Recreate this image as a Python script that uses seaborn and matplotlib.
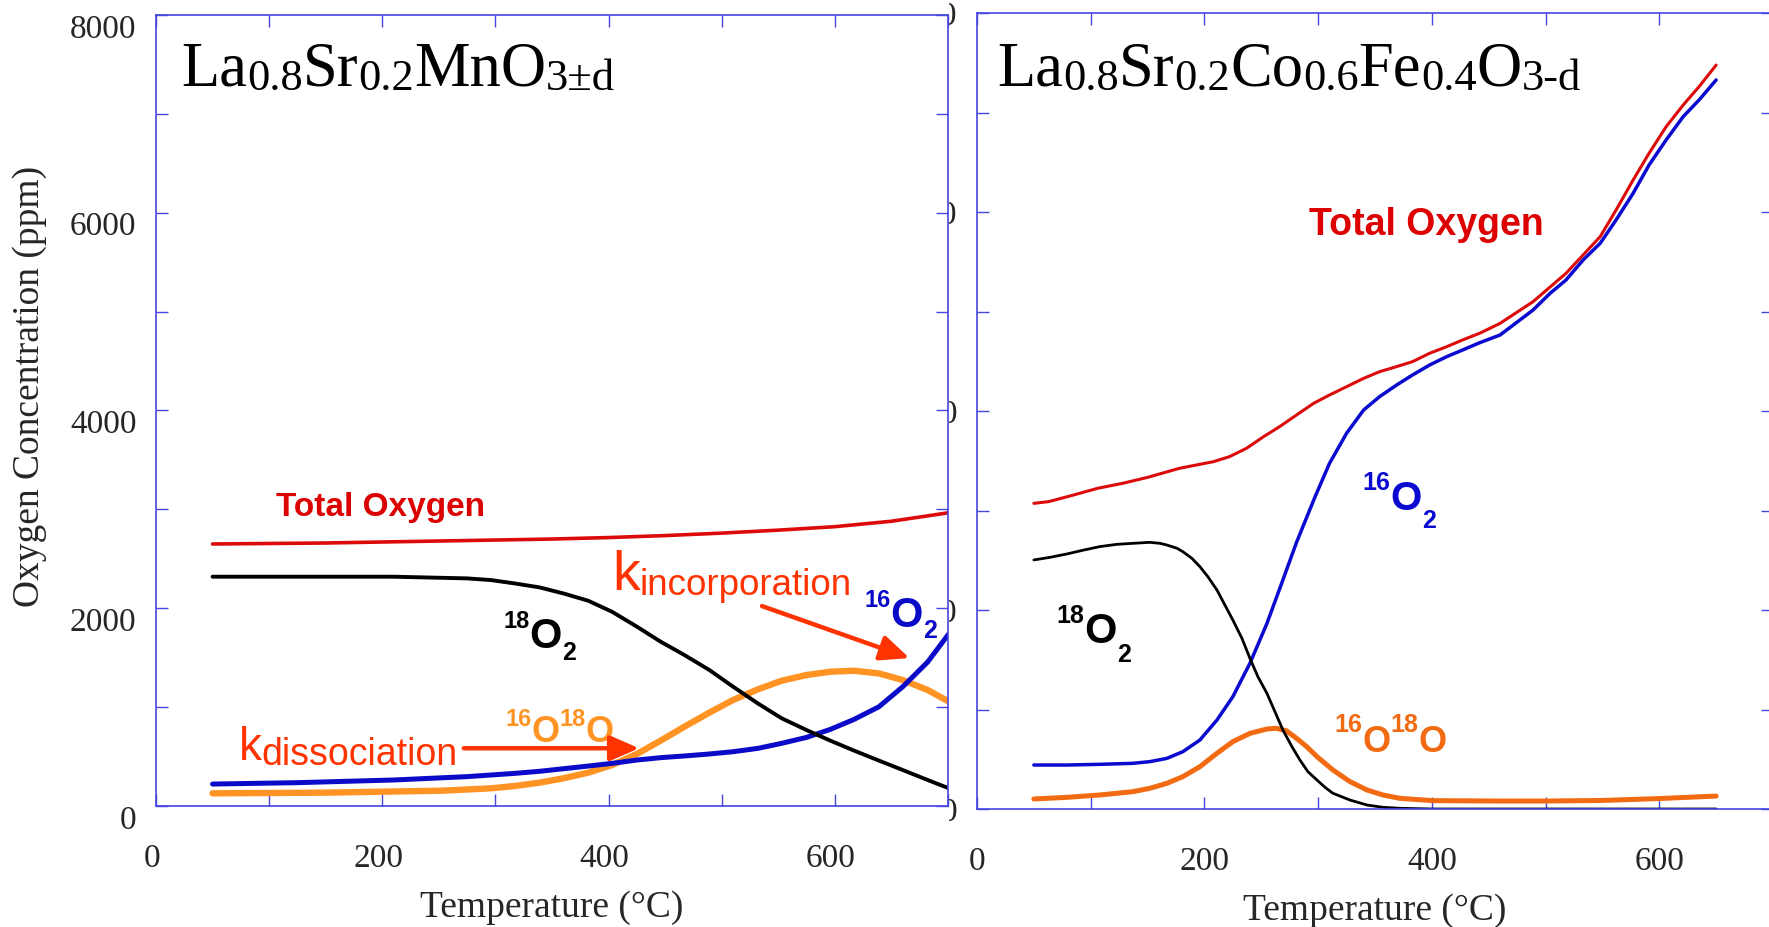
import numpy as np
import pandas as pd
import seaborn as sns
import matplotlib
matplotlib.use("Agg")
import matplotlib.pyplot as plt
from matplotlib.transforms import offset_copy, ScaledTranslation, Bbox
from matplotlib.ticker import MultipleLocator, FuncFormatter

# ---- left panel: La0.8Sr0.2MnO3 (temperature in C, concentration in ppm)
lsm_total_t = [50, 100, 150, 200, 250, 300, 350, 400, 450, 500, 550, 600, 650, 700]
lsm_total_c = [2650, 2655, 2660, 2670, 2680, 2690, 2700, 2715, 2735, 2760, 2790, 2825, 2880, 2965]

lsm_18o2_t = [50, 125, 210, 275, 296, 317, 339, 360, 382, 403, 425, 446, 467, 489, 510, 532,
              553, 575, 596, 617, 639, 660, 682, 701]
lsm_18o2_c = [2319, 2319, 2319, 2302, 2285, 2251, 2211, 2150, 2076, 1965, 1814, 1662, 1527, 1376,
              1207, 1037, 887, 768, 661, 560, 459, 364, 263, 178]

lsm_16o2_t = [50, 125, 210, 275, 317, 339, 360, 382, 403, 425, 446, 467, 489, 510, 532,
              553, 575, 596, 617, 639, 660, 682, 701]
lsm_16o2_c = [222, 236, 263, 297, 330, 351, 377, 404, 431, 465, 489, 506, 526, 549, 583,
              634, 694, 775, 876, 1004, 1206, 1456, 1746]

lsm_mixed_t = [50, 149, 253, 296, 317, 339, 360, 382, 403, 425, 446, 467, 489, 510, 532,
               553, 575, 596, 617, 639, 660, 682, 701]
lsm_mixed_c = [128, 135, 155, 179, 202, 236, 280, 337, 414, 526, 661, 802, 944, 1072, 1180,
               1267, 1325, 1358, 1368, 1341, 1274, 1173, 1055]

# ---- right panel: La0.8Sr0.2Co0.6Fe0.4O3
lscf_total_t = [50, 63, 85, 106, 128, 150, 178, 208, 222, 237, 252, 266, 281, 296, 310, 325,
                340, 354, 369, 383, 398, 413, 427, 442, 460, 489, 518, 548, 562, 577, 591, 606,
                621, 635, 650]
lscf_total_c = [3072, 3089, 3156, 3223, 3273, 3333, 3424, 3491, 3541, 3625, 3742, 3842, 3960,
                4077, 4161, 4244, 4328, 4395, 4446, 4496, 4580, 4646, 4714, 4781, 4881, 5099,
                5384, 5752, 6020, 6322, 6590, 6857, 7075, 7260, 7477]

lscf_16o2_t = [50, 79, 108, 137, 152, 167, 181, 196, 211, 225, 240, 255, 269, 281, 297, 310,
               325, 340, 354, 369, 383, 398, 413, 427, 442, 460, 489, 504, 518, 533, 548, 562,
               577, 591, 606, 621, 635, 650]
lscf_16o2_c = [442, 442, 449, 459, 476, 509, 576, 693, 894, 1129, 1464, 1866, 2302, 2680, 3130,
               3474, 3776, 4010, 4144, 4261, 4362, 4462, 4546, 4613, 4686, 4764, 5015, 5183,
               5317, 5518, 5685, 5920, 6188, 6472, 6724, 6958, 7126, 7327]

lscf_18o2_t = [50, 64, 79, 94, 108, 123, 137, 152, 161, 167, 176, 181, 189, 196, 203, 211, 218,
               225, 233, 240, 247, 255, 262, 269, 277, 284, 291, 299, 306, 313, 328, 343, 357,
               372, 400, 500, 600, 650]
lscf_18o2_c = [2503, 2529, 2563, 2603, 2637, 2660, 2670, 2680, 2670, 2653, 2620, 2586, 2519, 2436,
               2335, 2201, 2050, 1899, 1715, 1515, 1330, 1162, 978, 794, 626, 492, 375, 291, 218,
               158, 90, 40, 17, 7, 0, 0, 0, 0]

lscf_mixed_t = [50, 79, 108, 137, 152, 167, 181, 196, 211, 225, 240, 255, 263, 272, 281, 290,
                299, 313, 328, 343, 357, 372, 401, 460, 500, 550, 600, 650]
lscf_mixed_c = [101, 117, 141, 174, 208, 258, 325, 425, 560, 677, 760, 804, 811, 787, 710, 626,
                526, 392, 275, 191, 141, 107, 84, 80, 80, 86, 105, 130]

SPINE = "#4646e0"
SERIF = "Liberation Serif"
SANS = "Liberation Sans"

sns.set_style("white")
plt.rcParams["font.family"] = SERIF

fig = plt.figure(figsize=(17.69, 9.27), dpi=100)
ax_r = fig.add_axes([977 / 1769, 1 - 809 / 927, 796 / 1769, 796 / 927])
ax_l = fig.add_axes([156 / 1769, 1 - 806 / 927, 792 / 1769, 791 / 927])
ax_r.set_zorder(1)
ax_l.set_zorder(2)


def style_axes(ax):
    ax.set_xlim(0, 700)
    ax.set_ylim(0, 8000)
    ax.xaxis.set_major_locator(MultipleLocator(100))
    ax.yaxis.set_major_locator(MultipleLocator(1000))
    ax.xaxis.set_major_formatter(FuncFormatter(lambda v, p: f"{v:.0f}" if v % 200 == 0 else ""))
    ax.yaxis.set_major_formatter(FuncFormatter(lambda v, p: f"{v:.0f}" if v % 2000 == 0 else ""))
    ax.tick_params(direction="in", length=8.5, width=1.0, color=SPINE, labelsize=24,
                   top=True, right=True, left=True, bottom=True)
    ax.tick_params(axis="y", pad=14)
    ax.tick_params(axis="x", pad=27)
    for s in ax.spines.values():
        s.set_visible(True)
        s.set_color(SPINE)
        s.set_linewidth(1.2)
    ax.set_facecolor("white")


# left panel curves
sns.lineplot(x=lsm_mixed_t, y=lsm_mixed_c, ax=ax_l, color="#ff9424", linewidth=4.6)
sns.lineplot(x=lsm_16o2_t, y=lsm_16o2_c, ax=ax_l, color="#0a0ac8", linewidth=3.6)
sns.lineplot(x=lsm_18o2_t, y=lsm_18o2_c, ax=ax_l, color="black", linewidth=2.8)
sns.lineplot(x=lsm_total_t, y=lsm_total_c, ax=ax_l, color="#dd0a0a", linewidth=2.6)

# right panel curves
sns.lineplot(x=lscf_mixed_t, y=lscf_mixed_c, ax=ax_r, color="#f26b12", linewidth=3.6)
sns.lineplot(x=lscf_16o2_t, y=lscf_16o2_c, ax=ax_r, color="#0a0ad0", linewidth=2.5)
sns.lineplot(x=lscf_18o2_t, y=lscf_18o2_c, ax=ax_r, color="black", linewidth=2.0)
sns.lineplot(x=lscf_total_t, y=lscf_total_c, ax=ax_r, color="#dd0a0a", linewidth=2.2)

for ax in (ax_l, ax_r):
    style_axes(ax)
    ax.set_xlabel("Temperature (°C)", fontsize=27, labelpad=12)
    ax.set_ylabel("")

ax_l.set_ylabel("Oxygen Concentration (ppm)", fontsize=27)
ax_l.yaxis.set_label_coords(-0.1376, 0.53)

# left tick labels sit a little low / left in the original
shift_y = ScaledTranslation(0, -11 / 100, fig.dpi_scale_trans)
for lbl in ax_l.get_yticklabels():
    lbl.set_transform(lbl.get_transform() + shift_y)
shift_x = ScaledTranslation(-4 / 100, 0, fig.dpi_scale_trans)
for lbl in ax_l.get_xticklabels():
    lbl.set_transform(lbl.get_transform() + shift_x)

# right panel y labels are hidden behind the left panel, only their edge shows
gap = Bbox.from_extents(949, 0, 977, 927)
for lbl in ax_r.get_yticklabels():
    lbl.set_clip_box(gap)
    lbl.set_clip_on(True)

renderer = fig.canvas.get_renderer()


def rich_text(ax, x, y, parts, color, family, weight="normal"):
    # parts: (text, fontsize, vertical offset in pixels)
    dx = 0.0
    for s, size, dy in parts:
        tr = offset_copy(ax.transData, fig=fig, x=dx, y=dy, units="dots")
        t = ax.text(x, y, s, transform=tr, fontsize=size, color=color, family=family,
                    fontweight=weight, ha="left", va="baseline")
        dx += t.get_window_extent(renderer).width


# titles
rich_text(ax_l, 22, 7290, [("La", 45, 0), ("0.8", 32, -5), ("Sr", 45, 0), ("0.2", 32, -5),
                            ("MnO", 45, 0), ("3±d", 32, -5)], "black", SERIF)
rich_text(ax_r, 17.6, 7276, [("La", 45, 0), ("0.8", 32, -5), ("Sr", 45, 0), ("0.2", 32, -5),
                              ("Co", 45, 0), ("0.6", 32, -5), ("Fe", 45, 0), ("0.4", 32, -5),
                              ("O", 45, 0), ("3-d", 32, -5)], "black", SERIF)

# left panel labels
ax_l.text(106, 2932, "Total Oxygen", fontsize=24, color="#dd0000", family=SANS,
          fontweight="bold", ha="left", va="baseline")
rich_text(ax_l, 307, 1598, [("18", 17, 20), ("O", 30, 0), ("2", 18, -12)], "black", SANS, "bold")
rich_text(ax_l, 626, 1810, [("16", 17, 20), ("O", 30, 0), ("2", 18, -11)], "#0a0ac8", SANS, "bold")
rich_text(ax_l, 308.5, 647, [("16", 17, 16), ("O", 26, 0), ("18", 17, 16), ("O", 26, 0)],
          "#ff9424", SANS, "bold")
rich_text(ax_l, 73, 465, [("k", 33, 0), ("dissociation", 27, -5)], "#ff3300", SANS)
rich_text(ax_l, 403, 2184, [("k", 40, 0), ("incorporation", 26.5, -5)], "#ff3300", SANS)

arrow = dict(arrowstyle="-|>,head_length=0.8,head_width=0.35", color="#ff3300", lw=3.2,
             mutation_scale=22, shrinkA=0, shrinkB=0)
ax_l.annotate("", xy=(427, 584), xytext=(272, 584), arrowprops=arrow)
ax_l.annotate("", xy=(666, 1496), xytext=(535.6, 2022), arrowprops=arrow)

# right panel labels
ax_r.text(291.7, 5769, "Total Oxygen", fontsize=27, color="#dd0000", family=SANS,
          fontweight="bold", ha="left", va="baseline")
rich_text(ax_r, 339, 3005, [("16", 18, 20), ("O", 29, 0), ("2", 18, -18)], "#0a0ad0", SANS, "bold")
rich_text(ax_r, 70, 1668, [("18", 18, 20), ("O", 30, 0), ("2", 18, -19)], "black", SANS, "bold")
rich_text(ax_r, 314.6, 573, [("16", 18, 20), ("O", 26, 0), ("18", 18, 20), ("O", 26, 0)],
          "#f26b12", SANS, "bold")

fig.savefig("out.png", dpi=100)
